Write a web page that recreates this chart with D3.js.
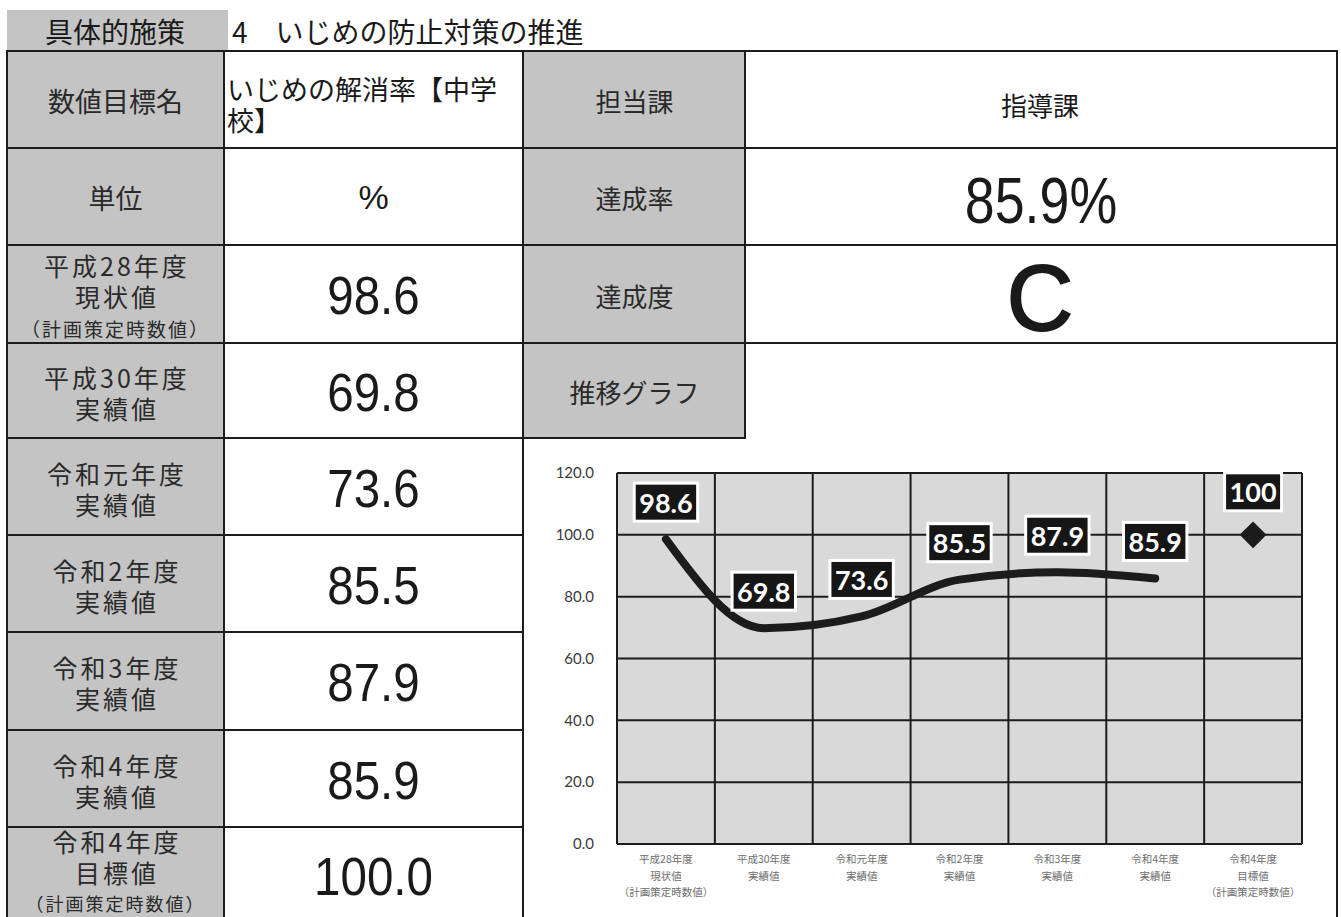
<!DOCTYPE html>
<html>
<head>
<meta charset="utf-8">
<script src="https://cdn.jsdelivr.net/npm/d3@7"></script>
<style>
  html, body { margin: 0; padding: 0; background: #ffffff; }
  svg { display: block; }
  .lines {
    font-family: 'Noto Sans CJK JP', 'Noto Sans', sans-serif; color: #2a2a2a;
    font-size: 25px; line-height: 31px; letter-spacing: 3px;
    white-space: pre-line; text-align: center; padding-left: 3px; box-sizing: border-box;
  }
  .measure {
    font-family: 'Noto Sans CJK JP', 'Noto Sans', sans-serif; color: #1a1a1a;
    font-size: 27px; line-height: 31px; word-break: break-all;
  }
</style>
</head>
<body>
<svg id="sheet" width="1341" height="917"></svg>
<script>
// ---- data ----
const policyHeading = "具体的施策";
const policyTitle = "4　いじめの防止対策の推進";
const measureName = "いじめの解消率【中学校】";
const unitLabel = "%";
const department = "指導課";
const achievementRate = 85.9;
const achievementGrade = "C";

const headerLabels = ["数値目標名", "単位"];
const rightLabels = ["担当課", "達成率", "達成度", "推移グラフ"];

const periodLabels = [
  ["平成28年度", "現状値", "（計画策定時数値）"],
  ["平成30年度", "実績値"],
  ["令和元年度", "実績値"],
  ["令和2年度", "実績値"],
  ["令和3年度", "実績値"],
  ["令和4年度", "実績値"],
  ["令和4年度", "目標値", "（計画策定時数値）"]
];
const actualValues = [98.6, 69.8, 73.6, 85.5, 87.9, 85.9];
const targetValue = 100.0;
const yTicks = [0, 20, 40, 60, 80, 100, 120];

// ---- layout ----
const svg = d3.select("#sheet");
const INK = "#1c1c1c";
const GRAY = "#c4c4c4";
const JP = "'Noto Sans CJK JP', 'Noto Sans', sans-serif";
const NUM = "'Liberation Sans', Arial, sans-serif";

const colX = [7, 224, 523, 745, 1337];
const rowY = [51, 148, 245, 343, 438, 535, 632, 730, 827, 922];
const rowMid = i => (rowY[i] + rowY[i + 1]) / 2;
const fmt1 = d3.format(".1f");

// ---- cell fills ----
const fills = svg.append("g");
fills.append("rect").attr("x", 7).attr("y", 10).attr("width", 221).attr("height", 41).attr("fill", GRAY);
fills.append("rect").attr("x", colX[0]).attr("y", rowY[0]).attr("width", colX[1] - colX[0]).attr("height", rowY[9] - rowY[0]).attr("fill", GRAY);
fills.append("rect").attr("x", colX[2]).attr("y", rowY[0]).attr("width", colX[3] - colX[2]).attr("height", rowY[4] - rowY[0]).attr("fill", GRAY);

// ---- chart ----
const plot = { left: 617, right: 1302, top: 473, bottom: 844 };
const categories = periodLabels.map(d => d.join(""));
const x = d3.scaleBand().domain(categories).range([plot.left, plot.right]).paddingInner(0).paddingOuter(0);
const cx = i => x(categories[i]) + x.bandwidth() / 2;
const y = d3.scaleLinear().domain([0, 120]).range([plot.bottom, plot.top]);

const chart = svg.append("g");
chart.append("rect")
  .attr("x", plot.left).attr("y", plot.top)
  .attr("width", plot.right - plot.left).attr("height", plot.bottom - plot.top)
  .attr("fill", "#d9d9d9");

// gridlines
chart.append("g").selectAll("line").data(yTicks).join("line")
  .attr("x1", plot.left).attr("x2", plot.right)
  .attr("y1", d => y(d)).attr("y2", d => y(d))
  .attr("stroke", INK).attr("stroke-width", 2);
const vLines = categories.map(c => x(c)).concat([plot.right]);
chart.append("g").selectAll("line").data(vLines).join("line")
  .attr("x1", d => d).attr("x2", d => d)
  .attr("y1", plot.top).attr("y2", plot.bottom)
  .attr("stroke", INK).attr("stroke-width", 2);

// y axis
const yAxis = chart.append("g")
  .attr("transform", `translate(${plot.left},0)`)
  .call(d3.axisLeft(y).tickValues(yTicks).tickFormat(fmt1).tickSize(0).tickPadding(23));
yAxis.select(".domain").remove();
yAxis.selectAll("text")
  .attr("font-family", "Lato, 'Open Sans', sans-serif")
  .attr("font-size", 15).attr("fill", "#3a3a3a");

// x labels
const xl = chart.append("g").selectAll("text").data(periodLabels).join("text")
  .attr("text-anchor", "middle")
  .attr("font-family", JP).attr("font-size", 10.5).attr("fill", "#6e6e6e");
xl.each(function (lines, i) {
  d3.select(this).selectAll("tspan").data(lines).join("tspan")
    .attr("x", cx(i)).attr("y", (d, k) => 863 + k * 16.5).text(d => d);
});

// actual series line
const line = d3.line().x((d, i) => cx(i)).y(d => y(d)).curve(d3.curveMonotoneX);
chart.append("path").datum(actualValues)
  .attr("d", line).attr("fill", "none")
  .attr("stroke", INK).attr("stroke-width", 8)
  .attr("stroke-linecap", "round").attr("stroke-linejoin", "round");

// target marker
const targetIdx = periodLabels.length - 1;
chart.append("path")
  .attr("d", d3.symbol(d3.symbolSquare, 19 * 19)())
  .attr("transform", `translate(${cx(targetIdx)},${y(targetValue)}) rotate(45)`)
  .attr("fill", INK);

// data labels
const labelData = actualValues.map((v, i) => ({ v, i, text: fmt1(v), off: 37 }))
  .concat([{ v: targetValue, i: targetIdx, text: String(targetValue), off: 43 }]);
const lab = chart.append("g").selectAll("g").data(labelData).join("g")
  .attr("transform", d => `translate(${cx(d.i)},${y(d.v) - d.off})`);
lab.append("rect");
lab.append("text")
  .attr("text-anchor", "middle").attr("dominant-baseline", "central")
  .attr("font-family", "Lato, 'Open Sans', sans-serif").attr("font-weight", 700)
  .attr("font-size", 27).attr("fill", "#ffffff")
  .text(d => d.text);
lab.each(function () {
  const g = d3.select(this);
  const b = g.select("text").node().getBBox();
  g.select("rect")
    .attr("x", b.x - 5).attr("y", -19).attr("width", b.width + 10).attr("height", 38)
    .attr("fill", "#161616").attr("stroke", "#ffffff").attr("stroke-width", 3);
});

// ---- borders ----
const borders = svg.append("g").attr("stroke", INK).attr("stroke-width", 2);
[[rowY[0], colX[0], colX[4]], [rowY[1], colX[0], colX[4]], [rowY[2], colX[0], colX[4]], [rowY[3], colX[0], colX[4]],
 [rowY[4], colX[0], colX[3]], [rowY[5], colX[0], colX[2]], [rowY[6], colX[0], colX[2]], [rowY[7], colX[0], colX[2]], [rowY[8], colX[0], colX[2]]]
  .forEach(([yy, x1, x2]) => borders.append("line").attr("x1", x1 - 1).attr("x2", x2 + 1).attr("y1", yy).attr("y2", yy));
[[colX[0], rowY[0], 917], [colX[1], rowY[0], 917], [colX[2], rowY[0], 917], [colX[3], rowY[0], rowY[4]], [colX[4], rowY[0], 917]]
  .forEach(([xx, y1, y2]) => borders.append("line").attr("x1", xx).attr("x2", xx).attr("y1", y1).attr("y2", y2));

// ---- texts ----
const txt = svg.append("g").attr("fill", "#1a1a1a");

txt.append("text").attr("x", 115).attr("y", 31).attr("text-anchor", "middle").attr("dominant-baseline", "central")
  .attr("font-family", JP).attr("font-size", 28).text(policyHeading);
txt.append("text").attr("x", 232).attr("y", 31).attr("dominant-baseline", "central")
  .attr("font-family", JP).attr("font-size", 28).text(policyTitle);

const c1 = (colX[0] + colX[1]) / 2, c2 = (colX[1] + colX[2]) / 2, c3 = (colX[2] + colX[3]) / 2;

headerLabels.forEach((t, i) => {
  txt.append("text").attr("x", c1).attr("y", rowMid(i) + 1).attr("text-anchor", "middle").attr("dominant-baseline", "central")
    .attr("font-family", JP).attr("font-size", 27).attr("fill", "#2a2a2a").text(t);
});

// measure name, wrapping inside its cell
svg.append("foreignObject")
  .attr("x", 227).attr("y", 72.5).attr("width", 285).attr("height", 64)
  .append("xhtml:div").attr("class", "measure").text(measureName);

txt.append("text")
  .attr("transform", `translate(${c2},${rowMid(1) + 0.358 * 34})`)
  .attr("text-anchor", "middle").attr("font-family", NUM).attr("font-size", 34).text(unitLabel);

// period labels in the first column: two main lines in one block, note line below
periodLabels.forEach((lines, k) => {
  const r = k + 2;
  const last = k === periodLabels.length - 1;
  const firstCenter = lines.length === 3 ? rowMid(r) - (last ? 33.5 : 29) : rowMid(r) - 13.5;
  svg.append("foreignObject")
    .attr("x", colX[0]).attr("y", firstCenter - 15.5)
    .attr("width", colX[1] - colX[0]).attr("height", 62)
    .append("xhtml:div").attr("class", "lines")
    .text(lines.slice(0, 2).join("\n"));
  if (lines.length === 3) {
    const fs = last ? 18 : 19;
    txt.append("text")
      .attr("x", c1).attr("y", firstCenter + 31 + (last ? 31 : 32))
      .attr("text-anchor", "middle").attr("dominant-baseline", "central")
      .attr("font-family", JP).attr("font-size", fs).attr("letter-spacing", 2)
      .attr("fill", "#2a2a2a").text(lines[2]);
  }
});

// big values in the second column
const tableValues = actualValues.map(fmt1).concat([fmt1(targetValue)]);
tableValues.forEach((t, k) => {
  const r = k + 2;
  const fs = 54;
  txt.append("text")
    .attr("transform", `translate(${c2},${rowMid(r) + 1 + 0.358 * fs}) scale(0.88,1)`)
    .attr("text-anchor", "middle").attr("font-family", NUM).attr("font-size", fs).text(t);
});

rightLabels.forEach((t, i) => {
  txt.append("text").attr("x", c3 + 0.5).attr("y", rowMid(i) + 1).attr("text-anchor", "middle").attr("dominant-baseline", "central")
    .attr("font-family", JP).attr("font-size", 26).attr("fill", "#2a2a2a").text(t);
});

txt.append("text").attr("x", 1040).attr("y", rowMid(0) + 5).attr("text-anchor", "middle").attr("dominant-baseline", "central")
  .attr("font-family", JP).attr("font-size", 26).text(department);

txt.append("text")
  .attr("transform", `translate(1041,${200 + 0.358 * 64}) scale(0.84,1)`)
  .attr("text-anchor", "middle").attr("font-family", NUM).attr("font-size", 64)
  .text(fmt1(achievementRate) + "%");

txt.append("text")
  .attr("x", 1040).attr("y", 330)
  .attr("text-anchor", "middle").attr("font-family", NUM).attr("font-size", 92)
  .attr("stroke", "#1a1a1a").attr("stroke-width", 2)
  .text(achievementGrade);
</script>
</body>
</html>
